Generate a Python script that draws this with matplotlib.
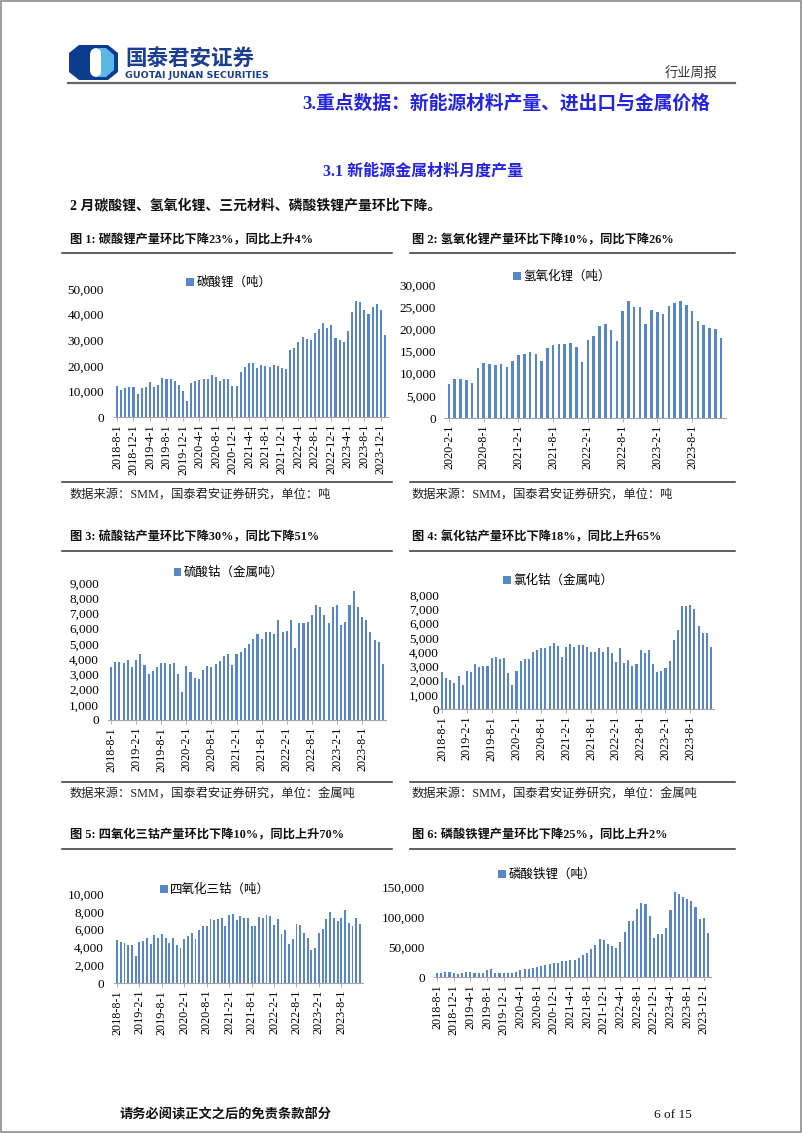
import matplotlib.pyplot as plt
from matplotlib.patches import Polygon, Rectangle, FancyBboxPatch
from matplotlib.ticker import FuncFormatter

plt.rcParams['font.family'] = ['Liberation Serif', 'Noto Sans CJK SC']

W, H = 802, 1133

# monthly output, thousand tonnes
li2co3_k = [12.0, 10.7, 11.5, 11.6, 11.9, 8.8, 11.5, 11.9, 13.7, 11.8,
            12.6, 15.4, 14.8, 15.0, 13.9, 12.6, 10.3, 6.3, 13.4, 13.9,
            14.5, 14.7, 15.0, 16.5, 15.8, 14.1, 14.9, 14.7, 12.3, 12.0,
            17.7, 19.4, 20.9, 20.9, 19.0, 20.4, 19.8, 19.6, 20.4, 19.8,
            19.1, 18.8, 26.0, 27.0, 29.3, 31.4, 30.4, 30.1, 32.7, 34.3,
            36.6, 34.8, 35.9, 30.8, 30.1, 29.3, 33.6, 41.1, 45.4, 45.0,
            41.9, 40.3, 43.1, 44.2, 41.9, 31.9]
lioh_k = [7.6, 8.7, 8.9, 8.5, 7.8, 11.2, 12.3, 12.1, 11.9, 12.1,
          11.5, 12.8, 14.1, 14.4, 15.0, 14.4, 12.8, 15.7, 16.4, 16.8,
          16.8, 17.0, 16.1, 12.6, 17.5, 18.4, 20.7, 21.3, 19.8, 17.3,
          24.1, 26.3, 25.1, 25.1, 21.1, 24.3, 23.9, 23.4, 25.2, 25.9,
          26.5, 25.4, 24.1, 21.9, 20.9, 20.4, 20.0, 18.0]
coso4_k = [3.5, 3.8, 3.8, 3.75, 3.95, 3.5, 3.95, 4.35, 3.6, 3.0,
           3.2, 3.5, 3.75, 3.75, 3.7, 3.75, 3.0, 1.85, 3.55, 3.15,
           2.75, 2.7, 3.3, 3.55, 3.5, 3.65, 3.9, 4.2, 4.35, 3.6,
           4.35, 4.5, 4.7, 5.0, 5.3, 5.65, 5.35, 5.8, 5.75, 5.65,
           6.55, 5.75, 5.85, 6.55, 4.7, 6.4, 6.35, 6.45, 6.9, 7.55,
           7.4, 6.9, 6.35, 7.4, 7.55, 6.25, 6.45, 7.55, 8.45, 7.45,
           6.75, 6.6, 5.75, 5.25, 5.15, 3.65]
cocl2_k = [2.6, 2.2, 2.05, 1.85, 2.35, 1.7, 2.65, 2.6, 3.15, 2.95,
           3.0, 3.0, 3.6, 3.65, 3.5, 3.6, 2.5, 1.7, 2.65, 3.4,
           3.5, 3.5, 4.0, 4.15, 4.25, 4.3, 4.4, 4.6, 4.4, 3.65,
           4.35, 4.55, 4.35, 4.5, 4.5, 4.35, 4.0, 4.0, 4.3, 4.0,
           4.35, 3.95, 3.3, 4.3, 3.2, 3.45, 3.0, 3.15, 4.15, 3.95,
           4.15, 3.15, 2.6, 2.65, 2.85, 3.4, 4.85, 5.55, 7.25, 7.25,
           7.3, 7.0, 5.85, 5.35, 5.3, 4.35]
co3o4_k = [4.85, 4.6, 4.5, 4.3, 4.3, 3.05, 4.6, 4.75, 5.05, 4.35,
           5.4, 5.05, 5.5, 5.05, 4.5, 5.05, 4.3, 3.9, 4.95, 5.3,
           5.65, 4.95, 6.0, 6.45, 6.45, 7.15, 7.1, 7.15, 7.25, 6.35,
           7.6, 7.7, 7.05, 7.5, 7.35, 7.25, 6.35, 6.45, 7.4, 7.35,
           7.6, 7.5, 6.5, 7.15, 5.55, 6.0, 4.35, 4.95, 6.6, 6.5,
           5.65, 5.05, 3.7, 3.9, 5.65, 6.1, 7.15, 7.95, 7.25, 6.95,
           7.35, 8.2, 6.7, 6.35, 7.25, 6.6]
lfp_k = [7, 7, 8, 9, 7, 5, 7, 8, 8, 7,
         7, 7, 12, 14, 7, 7, 7, 6, 7, 9,
         11, 13, 14, 15, 17, 19, 20, 21, 23, 23,
         26, 27, 28, 29, 31, 37, 40, 47, 53, 63,
         62, 55, 52, 49, 58, 75, 94, 93, 114, 124,
         121, 102, 65, 72, 72, 82, 112, 142, 139, 133,
         130, 127, 116, 96, 99, 73]

titles = ['图 1: 碳酸锂产量环比下降23%，同比上升4%',
          '图 2: 氢氧化锂产量环比下降10%，同比下降26%',
          '图 3: 硫酸钴产量环比下降30%，同比下降51%',
          '图 4: 氯化钴产量环比下降18%，同比上升65%',
          '图 5: 四氧化三钴产量环比下降10%，同比上升70%',
          '图 6: 磷酸铁锂产量环比下降25%，同比上升2%']
legends = ['碳酸锂（吨）', '氢氧化锂（吨）', '硫酸钴（金属吨）',
           '氯化钴（金属吨）', '四氧化三钴（吨）', '磷酸铁锂（吨）']
source_ton = '数据来源：SMM，国泰君安证券研究，单位：吨'
source_metal = '数据来源：SMM，国泰君安证券研究，单位：金属吨'

BAR = '#5787C6'


def month_labels(year, month, n):
    out = []
    for i in range(n):
        m = month - 1 + i
        out.append('%d-%d-1' % (year + m // 12, m % 12 + 1))
    return out


def px_rect(x0, y0, x1, y1):
    return [x0 / W, 1 - y1 / H, (x1 - x0) / W, (y1 - y0) / H]


def draw_bars(fig, vals_k, start, step, first_px, last_px, y0_px, ytop_px,
              ymax, ystep, lab_right, leg_label, leg_xy, width=0.5):
    n = len(vals_k)
    sp = (last_px - first_px) / (n - 1)
    left = first_px - 0.8 * sp
    right = last_px + 0.8 * sp
    ax = fig.add_axes(px_rect(left, ytop_px, right, y0_px))
    ax.patch.set_alpha(0)
    vals = [v * 1000 for v in vals_k]
    bars = ax.bar(range(n), vals, width=width, color=BAR, label=leg_label)
    ax.set_xlim(-0.8, n - 1 + 0.8)
    ax.set_ylim(0, ymax)
    ax.set_yticks(range(0, ymax + 1, ystep))
    ax.yaxis.set_major_formatter(FuncFormatter(lambda v, p: '{:,.0f}'.format(v)))
    labels = month_labels(start[0], start[1], n)
    idx = list(range(0, n, step))
    ax.set_xticks(idx, [labels[i] for i in idx], rotation=90, fontsize=8.7)
    for s in ['top', 'right', 'left']:
        ax.spines[s].set_visible(False)
    ax.spines['bottom'].set_color('#A6A6A6')
    ax.spines['bottom'].set_linewidth(0.8)
    ax.tick_params(axis='y', length=0, labelsize=9.5,
                   pad=(left - lab_right) * 0.72)
    ax.tick_params(axis='x', length=3, color='#A6A6A6', width=0.6, pad=2)
    ax.legend(handles=[bars], loc='center', frameon=False, fontsize=9,
              handlelength=0.6, handleheight=0.6, handletextpad=0.2,
              bbox_to_anchor=(leg_xy[0] / W, 1 - leg_xy[1] / H),
              bbox_transform=fig.transFigure)
    return ax


fig = plt.figure(figsize=(W / 100, H / 100), dpi=100)
page = fig.add_axes([0, 0, 1, 1])
page.set_xlim(0, W)
page.set_ylim(H, 0)
page.axis('off')

# page frame
page.add_patch(Rectangle((0.5, 0.5), W - 1.5, H - 1.5, fill=False,
                         edgecolor='#8C8C8C', lw=1.2))

# logo
page.add_patch(Polygon([(69, 53), (79, 45), (108, 45), (118, 53), (118, 72),
                        (108, 80), (79, 80), (69, 72)], closed=True,
                       facecolor='#0D3C8E', edgecolor='none'))
page.add_patch(FancyBboxPatch((90, 48), 14, 29, boxstyle='round,pad=0,rounding_size=7',
                              facecolor='white', edgecolor='none'))
page.add_patch(Polygon([(97, 48), (106, 48), (114, 55), (114, 70), (106, 77),
                        (97, 77)], closed=True, facecolor='#5BB7E6',
                       edgecolor='none'))
page.add_patch(FancyBboxPatch((93, 49), 8, 27, boxstyle='round,pad=0,rounding_size=4',
                              facecolor='white', edgecolor='none'))
page.text(125, 58, '国泰君安证券', fontsize=15.5, fontweight='bold',
          color='#1C3E8E', ha='left', va='center', family='Noto Sans CJK SC')
page.text(125, 75.5, 'GUOTAI JUNAN SECURITIES', fontsize=6.8, fontweight='bold',
          color='#1C3E8E', ha='left', va='center', family='DejaVu Sans')
page.text(718, 73, '行业周报', fontsize=9.5, color='#333333', ha='right',
          va='center')
page.plot([68, 735], [83, 83], color='#666666', lw=1.6)

page.text(710, 103, '3.重点数据：新能源材料产量、进出口与金属价格', fontsize=13.5,
          fontweight='bold', color='#2323E0', ha='right', va='center')
page.text(423, 172, '3.1 新能源金属材料月度产量', fontsize=11.5,
          fontweight='bold', color='#2323E0', ha='center', va='center')
page.text(70, 206, '2 月碳酸锂、氢氧化锂、三元材料、磷酸铁锂产量环比下降。',
          fontsize=10, fontweight='bold', color='#111111', ha='left',
          va='center')

# chart titles / rules / sources
title_pos = [(70, 240), (412, 240), (70, 537), (412, 537), (70, 835), (412, 835)]
for t, (tx, ty) in zip(titles, title_pos):
    page.text(tx, ty, t, fontsize=8.8, fontweight='bold', color='#111111',
              ha='left', va='center')
for ry in [253, 551, 849]:
    page.plot([62, 392], [ry, ry], color='#333333', lw=1.1)
    page.plot([410, 735], [ry, ry], color='#333333', lw=1.1)
for ry in [482, 782]:
    page.plot([62, 392], [ry, ry], color='#333333', lw=1.1)
    page.plot([410, 735], [ry, ry], color='#333333', lw=1.1)
page.text(70, 495, source_ton, fontsize=8.8, color='#222222', ha='left', va='center')
page.text(412, 495, source_ton, fontsize=8.8, color='#222222', ha='left', va='center')
page.text(70, 795, source_metal, fontsize=8.8, color='#222222', ha='left', va='center')
page.text(412, 795, source_metal, fontsize=8.8, color='#222222', ha='left', va='center')

page.text(120, 1115, '请务必阅读正文之后的免责条款部分', fontsize=9.5,
          fontweight='bold', color='#111111', ha='left', va='center')
page.text(692, 1115, '6 of 15', fontsize=9.5, color='#111111', ha='right',
          va='center')

draw_bars(fig, li2co3_k, (2018, 8), 4, 117, 385, 417, 289, 50000, 10000,
          104, legends[0], (229, 283))
draw_bars(fig, lioh_k, (2020, 2), 6, 449, 721, 418, 285, 30000, 5000,
          436, legends[1], (562, 277), width=0.45)
draw_bars(fig, coso4_k, (2018, 8), 6, 111, 383, 720, 583, 9000, 1000,
          99, legends[2], (229, 573))
draw_bars(fig, cocl2_k, (2018, 8), 6, 442, 711, 709, 595, 8000, 1000,
          439, legends[3], (558, 581))
draw_bars(fig, co3o4_k, (2018, 8), 6, 117, 360, 983, 894, 10000, 2000,
          104, legends[4], (215, 890))
draw_bars(fig, lfp_k, (2018, 8), 4, 437, 708, 977, 887, 150000, 50000,
          425, legends[5], (547, 875))

fig.savefig('out.png', dpi=100)
